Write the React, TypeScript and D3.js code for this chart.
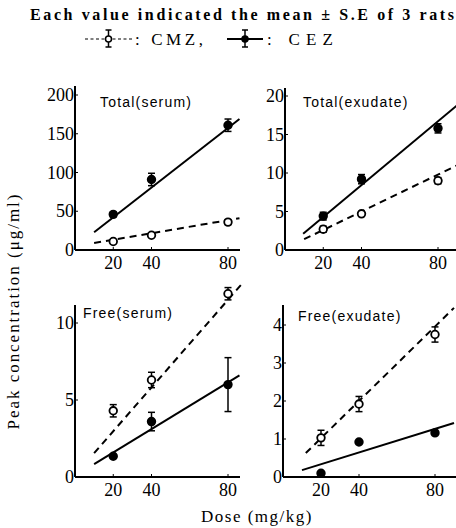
import React from "react";
import * as d3 from "d3";

// doses (mg/kg)
const doses = [20, 40, 80];

// Total (serum), ug/ml
const totalSerumCMZ = [11, 19, 36];
const totalSerumCMZse = [2, 2, 3];
const totalSerumCEZ = [46, 91, 161];
const totalSerumCEZse = [3, 8, 8];

// Total (exudate)
const totalExuCMZ = [2.7, 4.7, 9.0];
const totalExuCMZse = [0.4, 0.3, 0.4];
const totalExuCEZ = [4.4, 9.2, 15.8];
const totalExuCEZse = [0.5, 0.6, 0.6];

// Free (serum)
const freeSerumCMZ = [4.3, 6.3, 11.9];
const freeSerumCMZse = [0.4, 0.5, 0.4];
const freeSerumCEZ = [1.35, 3.6, 6.0];
const freeSerumCEZse = [0.1, 0.6, 1.75];

// Free (exudate)
const freeExuCMZ = [1.03, 1.92, 3.75];
const freeExuCMZse = [0.2, 0.2, 0.2];
const freeExuCEZ = [0.1, 0.92, 1.16];
const freeExuCEZse = [0, 0, 0];

// fitted lines: [dose, value] end points
const totalSerumCMZfit = [[10, 9], [86, 41]];
const totalSerumCEZfit = [[10, 23], [86, 169]];
const totalExuCMZfit = [[10, 1.4], [90, 11.0]];
const totalExuCEZfit = [[9.5, 2.1], [90, 18.8]];
const freeSerumCMZfit = [[10, 1.55], [87, 12.5]];
const freeSerumCEZfit = [[10, 0.84], [86, 6.6]];
const freeExuCMZfit = [[12, 0.63], [90, 4.45]];
const freeExuCEZfit = [[10, 0.18], [90, 1.42]];

const yTicksTotalSerum = [0, 50, 100, 150, 200];
const yTicksTotalExu = [0, 5, 10, 15, 20];
const yTicksFreeSerum = [0, 5, 10];
const yTicksFreeExu = [0, 1, 2, 3, 4];

const SERIF = "Times New Roman";
const SANS = "Liberation Sans";

const panels = [
  {
    title: "Total(serum)", cmz: totalSerumCMZ, cmzSe: totalSerumCMZse, cez: totalSerumCEZ, cezSe: totalSerumCEZse,
    cmzFit: totalSerumCMZfit, cezFit: totalSerumCEZfit, ticks: yTicksTotalSerum, yMax: 200,
    xr: [75, 228], yr: [250, 95], axisTop: 86, axisRight: 240, titleX: 100, titleY: 107,
  },
  {
    title: "Total(exudate)", cmz: totalExuCMZ, cmzSe: totalExuCMZse, cez: totalExuCEZ, cezSe: totalExuCEZse,
    cmzFit: totalExuCMZfit, cezFit: totalExuCEZfit, ticks: yTicksTotalExu, yMax: 20,
    xr: [285, 438], yr: [250, 96], axisTop: 88, axisRight: 456, titleX: 303, titleY: 107,
  },
  {
    title: "Free(serum)", cmz: freeSerumCMZ, cmzSe: freeSerumCMZse, cez: freeSerumCEZ, cezSe: freeSerumCEZse,
    cmzFit: freeSerumCMZfit, cezFit: freeSerumCEZfit, ticks: yTicksFreeSerum, yMax: 10,
    xr: [75, 228], yr: [477, 323], axisTop: 305, axisRight: 240, titleX: 83, titleY: 318,
  },
  {
    title: "Free(exudate)", cmz: freeExuCMZ, cmzSe: freeExuCMZse, cez: freeExuCEZ, cezSe: freeExuCEZse,
    cmzFit: freeExuCMZfit, cezFit: freeExuCEZfit, ticks: yTicksFreeExu, yMax: 4,
    xr: [283, 435], yr: [477, 325], axisTop: 305, axisRight: 456, titleX: 298, titleY: 321,
  },
];

const ErrPoint = ({ cx, t, m, b, fill }: { cx: number; t: number; m: number; b: number; fill: string }) => (
  <g stroke="#000">
    {t !== b && (
      <>
        <line x1={cx} x2={cx} y1={t} y2={b} strokeWidth={1.5} />
        <line x1={cx - 3.5} x2={cx + 3.5} y1={t} y2={t} strokeWidth={1.5} />
        <line x1={cx - 3.5} x2={cx + 3.5} y1={b} y2={b} strokeWidth={1.5} />
      </>
    )}
    <circle cx={cx} cy={m} r={3.8} fill={fill} strokeWidth={1.8} />
  </g>
);

const LegendItem = ({ x0, x1, dashed, filled }: { x0: number; x1: number; dashed: boolean; filled: boolean }) => {
  const cx = (x0 + x1) / 2;
  return (
    <g stroke="#000" strokeWidth={1.5}>
      <line x1={x0} x2={x1} y1={39} y2={39} strokeDasharray={dashed ? "3,2.5" : undefined} strokeWidth={dashed ? 1.2 : 2} />
      <line x1={cx} x2={cx} y1={30} y2={47} />
      <line x1={cx - 3} x2={cx + 3} y1={30} y2={30} />
      <line x1={cx - 3} x2={cx + 3} y1={47} y2={47} />
      <circle cx={cx} cy={39} r={3} fill={filled ? "#000" : "#fff"} />
    </g>
  );
};

const Panel = ({ p }: { p: (typeof panels)[number] }) => {
  const x = d3.scaleLinear().domain([0, 80]).range(p.xr);
  const y = d3.scaleLinear().domain([0, p.yMax]).range(p.yr);
  const line = d3.line<number[]>().x((d) => x(d[0])).y((d) => y(d[1]));
  const series = [
    { v: p.cmz, se: p.cmzSe, fill: "#fff" },
    { v: p.cez, se: p.cezSe, fill: "#000" },
  ];
  return (
    <g>
      <line x1={x(0)} x2={x(0)} y1={p.axisTop} y2={y(0)} stroke="#000" strokeWidth={2} />
      <line x1={x(0)} x2={p.axisRight} y1={y(0)} y2={y(0)} stroke="#000" strokeWidth={2} />
      {p.ticks.map((t) => (
        <g key={t}>
          <line x1={x(0)} x2={x(0) + 3} y1={y(t)} y2={y(t)} stroke="#000" />
          <text className="serif" x={x(0) - 1} y={y(t) + 6} textAnchor="end" fontFamily={SERIF} fontSize={18}>{t}</text>
        </g>
      ))}
      {doses.map((d) => (
        <g key={d}>
          <line x1={x(d)} x2={x(d)} y1={y(0)} y2={y(0) - 3} stroke="#000" />
          <text className="serif" x={x(d)} y={y(0) + 19} textAnchor="middle" fontFamily={SERIF} fontSize={18}>{d}</text>
        </g>
      ))}
      <text className="sans" x={p.titleX} y={p.titleY} fontFamily={SANS} fontSize={14} letterSpacing={1.2}>{p.title}</text>
      <path d={line(p.cmzFit) ?? ""} fill="none" stroke="#000" strokeWidth={2} strokeDasharray="7,5" />
      <path d={line(p.cezFit) ?? ""} fill="none" stroke="#000" strokeWidth={2} />
      {series.map((s, si) =>
        doses.map((d, i) => (
          <ErrPoint key={si + "-" + d} cx={x(d)} t={y(s.v[i] + s.se[i])} m={y(s.v[i])} b={y(s.v[i] - s.se[i])} fill={s.fill} />
        ))
      )}
    </g>
  );
};

const App = () => (
  <svg width={456} height={528} style={{ position: "absolute", left: 0, top: 0 }}>
    <style>{`.serif { font-family: "Liberation Serif", "Times New Roman", serif; } .sans { font-family: "Liberation Sans", Arial, sans-serif; }`}</style>
    <rect width={456} height={528} fill="#fff" />
    <text className="serif" x={30} y={20} textLength={424} fontFamily={SERIF} fontSize={16} fontWeight="bold">
      Each value indicated the mean {"\u00b1"} S.E of 3 rats
    </text>
    <LegendItem x0={85} x1={132} dashed={true} filled={false} />
    <LegendItem x0={227} x1={263} dashed={false} filled={true} />
    <text className="serif" x={135} y={45} fontFamily={SERIF} fontSize={17} textLength={68}>: CMZ,</text>
    <text className="serif" x={267} y={45} fontFamily={SERIF} fontSize={17} textLength={66}>: CEZ</text>
    {panels.map((p) => (
      <Panel key={p.title} p={p} />
    ))}
    <text className="serif" transform="translate(19,312) rotate(-90)" textAnchor="middle" textLength={235} fontFamily={SERIF} fontSize={17}>
      Peak concentration ({"\u03bc"}g/ml)
    </text>
    <text className="serif" x={257} y={522} textAnchor="middle" fontFamily={SERIF} fontSize={17} letterSpacing={1.5}>
      Dose (mg/kg)
    </text>
  </svg>
);

export default App;
